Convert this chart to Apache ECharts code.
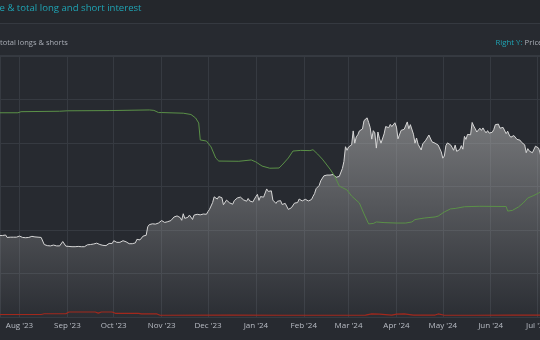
<!DOCTYPE html>
<html><head><meta charset="utf-8">
<script src="https://cdn.jsdelivr.net/npm/echarts@6/dist/echarts.min.js"></script>
<style>html,body{margin:0;padding:0;background:#272a30;}#c{width:540px;height:340px;}</style>
</head><body><div id="c"></div>
<script>
// Price (k USD), daily closes starting 2023-07-19
const priceStart = '2023-07-19';
const price_2023_07 = [29.9,29.8,29.9,29.8,30.1,29.2,29.2,29.3,29.2,29.3,29.3,29.3,29.2];
const price_2023_08 = [29.7,29.2,29.2,29.1,29.1,29.1,29.2,29.8,29.6,29.4,29.4,29.4,29.3,29.4,29.2,28.7,26.6,26.1,26.2,26.1,26.1,26.1,26.4,26.2,26.1,26.0,26.1,26.1,27.7,27.3,26.0];
const price_2023_09 = [25.9,25.9,26.0,25.8,25.8,25.8,26.2,25.9,25.9,25.8,25.1,25.8,26.2,26.5,26.6,26.6,26.5,26.8,27.2,27.1,26.6,26.6,26.6,26.3,26.3,26.2,26.4,27.0,27.0,27.0];
const price_2023_10 = [28.0,27.5,27.4,27.8,27.4,28.0,28.0,28.0,27.6,27.4,26.9,26.8,26.9,26.9,27.2,28.5,28.4,28.3,28.7,29.7,30.0,30.0,33.1,33.9,34.5,34.2,33.9,34.1,34.5,34.5,34.7];
const price_2023_11 = [35.4,34.9,34.7,35.1,35.0,35.0,35.4,35.6,36.7,37.3,37.1,37.1,36.5,35.5,37.9,36.2,36.6,36.6,37.4,37.5,35.8,37.4,37.3,37.7,37.8,37.5,37.2,37.8,37.9,37.7];
const price_2023_12 = [38.7,39.5,39.9,42.0,44.1,43.8,43.3,44.2,44.0,43.8,41.2,41.5,42.9,43.0,41.9,42.3,41.4,42.7,42.3,43.7,43.8,44.0,43.7,43.0,43.6,42.5,43.5,42.6,42.1,42.2,42.3];
const price_2024_01 = [44.2,45.0,42.8,44.2,44.2,44.0,43.9,47.0,46.1,46.6,46.3,42.9,42.9,41.7,42.5,43.1,42.7,41.3,41.6,41.7,41.6,39.5,39.8,40.1,40.0,41.8,42.1,42.0,43.3,42.9,42.6];
const price_2024_02 = [43.1,43.2,43.0,42.6,42.7,43.1,44.3,45.3,47.1,47.8,48.3,50.0,49.7,51.8,52.0,52.1,51.7,52.1,51.8,52.3,51.9,51.3,50.7,51.6,51.7,54.5,57.1,62.5,61.2];
const price_2024_03 = [62.4,62.0,63.2,68.3,63.8,66.1,66.9,68.3,68.5,69.0,72.1,71.5,73.1,71.4,69.5,65.3,68.4,67.6,62.0,67.9,65.5,63.8,64.0,67.2,69.9,69.9,69.5,70.7,69.9,69.6,71.3];
const price_2024_04 = [69.7,65.4,65.9,68.5,67.8,68.9,69.4,71.6,69.1,70.6,70.0,67.1,63.8,65.7,63.4,63.8,61.3,63.5,63.8,64.9,64.9,66.8,66.4,64.3,64.5,63.8,63.4,63.1,63.8,60.6];
const price_2024_05 = [58.3,59.1,62.9,63.9,64.0,63.2,62.3,61.2,63.1,60.8,60.8,61.5,62.9,61.6,66.3,65.2,67.0,67.0,66.9,71.4,70.1,69.1,67.9,68.5,69.3,68.5,69.4,68.4,67.6,68.4,67.5];
const price_2024_06 = [67.7,67.8,68.8,70.6,71.1,70.8,69.3,69.3,69.6,69.5,67.3,68.2,66.8,66.0,66.2,66.6,66.5,65.2,65.0,64.9,64.1,64.3,63.2,60.3,61.8,60.9,61.6,60.3,60.9,62.7];
const price_2024_07 = [62.9,62.0,60.2,57.0,56.6];

// Total longs (k BTC)
const longsDates = ['2023-07-19','2023-07-31','2023-08-02','2023-08-27','2023-09-01','2023-09-28','2023-10-24','2023-10-27','2023-10-30','2023-11-01','2023-11-15','2023-11-20','2023-11-23','2023-11-25','2023-11-26','2023-11-30','2023-12-03','2023-12-06','2023-12-08','2023-12-21','2023-12-29','2024-01-01','2024-01-05','2024-01-10','2024-01-16','2024-01-18','2024-01-22','2024-01-25','2024-01-30','2024-02-05','2024-02-07','2024-02-10','2024-02-13','2024-02-15','2024-02-18','2024-02-21','2024-02-24','2024-02-29','2024-03-03','2024-03-08','2024-03-11','2024-03-14','2024-03-17','2024-03-19','2024-03-24','2024-04-01','2024-04-07','2024-04-11','2024-04-13','2024-04-19','2024-04-26','2024-04-28','2024-05-02','2024-05-06','2024-05-09','2024-05-15','2024-05-25','2024-06-11','2024-06-12','2024-06-15','2024-06-19','2024-06-22','2024-06-25','2024-06-29','2024-07-02','2024-07-04'];
const longsValues = [93.9,93.9,94.4,94.6,94.8,94.9,95.2,95.0,94.0,94.0,93.7,93.1,91.5,89.2,81.4,80.9,78.2,73.1,71.7,71.6,72.2,71.3,69.4,68.4,68.5,69.9,73.1,76.3,76.6,76.5,76.9,74.9,72.6,70.8,68.0,64.8,60.2,58.4,55.6,52.4,47.4,42.8,43.0,43.7,43.4,43.2,43.2,43.7,44.8,45.5,46.0,46.4,48.3,49.7,49.9,50.7,50.9,50.8,48.7,49.0,50.6,52.4,54.7,55.9,57.0,57.9];

// Total shorts (k BTC)
const shortsDates = ['2023-07-19','2023-08-15','2023-08-17','2023-08-31','2023-09-02','2023-09-19','2023-09-21','2023-09-23','2023-09-30','2023-10-02','2023-10-17','2023-10-19','2023-10-29','2023-10-31','2023-12-15','2024-01-20','2024-02-20','2024-03-12','2024-03-16','2024-03-21','2024-03-29','2024-04-01','2024-04-06','2024-04-12','2024-04-26','2024-04-28','2024-05-02','2024-05-20','2024-06-15','2024-07-04'];
const shortsValues = [1.15,1.15,1.5,1.5,2.3,2.3,1.8,2.3,2.3,1.7,1.7,1.4,1.4,0.8,0.9,0.8,0.8,0.9,1.4,1.3,0.9,1.3,1.4,0.9,0.9,1.4,0.8,0.8,0.9,0.9];

const monthNames = ['Jan','Feb','Mar','Apr','May','Jun','Jul','Aug','Sep','Oct','Nov','Dec'];

const priceValues = [].concat(price_2023_07,price_2023_08,price_2023_09,price_2023_10,price_2023_11,price_2023_12,price_2024_01,price_2024_02,price_2024_03,price_2024_04,price_2024_05,price_2024_06,price_2024_07);
const DAY = 86400000;
const t0 = Date.parse(priceStart + 'T00:00:00Z');
const priceData = priceValues.map((v,i)=>[t0 + i*DAY, v]);
const toTs = s => Date.parse(s + 'T00:00:00Z');
const longsData = longsDates.map((d,i)=>[toTs(d), longsValues[i]]);
const shortsData = shortsDates.map((d,i)=>[toTs(d), shortsValues[i]]);

const chart = echarts.init(document.getElementById('c'), null, {renderer:'canvas'});
const teal = '#1fa3b3';
const grid = '#363a41';
chart.setOption({
  backgroundColor: '#272a30',
  animation: false,
  useUTC: true,
  grid: {left: 0, right: 0, top: 56, bottom: 23, containLabel: false, outerBoundsMode: 'none'},
  graphic: [
    {type:'rect', shape:{x:0,y:0,width:540,height:23}, style:{fill:'#24272c'}, z:-1},
    {type:'line', shape:{x1:0,y1:23.5,x2:540,y2:23.5}, style:{stroke:'#353940', lineWidth:1}},
    {type:'line', shape:{x1:0,y1:55.5,x2:540,y2:55.5}, style:{stroke:'#353940', lineWidth:1}},
    {type:'text', x:-0.5, y:8.5, style:{text:'e & total long and short interest', fill:teal, font:'9.6px "Open Sans"', verticalAlign:'middle'}},
    {type:'text', x:0, y:42.5, style:{text:'total longs & shorts', fill:'#a9adb5', font:'7.5px "Open Sans"', verticalAlign:'middle'}},
    {type:'text', x:495.5, y:42.5, style:{text:'{a|Right Y:} {b|Price}', font:'7.8px "Open Sans"', verticalAlign:'middle', rich:{a:{fill:teal, font:'7.8px "Open Sans"'}, b:{fill:'#a9adb5', font:'7.8px "Open Sans"'}}}}
  ],
  xAxis: {
    type: 'time',
    min: Date.UTC(2023,6,19,9),
    max: Date.UTC(2024,6,2,22),
    splitNumber: 12,
    minInterval: 28*DAY,
    axisLine: {show:false},
    axisTick: {show:false},
    splitLine: {show:true, lineStyle:{color:grid, width:1}},
    axisLabel: {
      color:'#b8bcc4', fontSize:8, fontFamily:'Open Sans', margin:5, hideOverlap:false,
      formatter: function(v){ const d=new Date(v); return monthNames[d.getUTCMonth()] + " '" + String(d.getUTCFullYear()).slice(2); }
    }
  },
  yAxis: [
    {type:'value', min:0, max:120, interval:20, axisLabel:{show:false}, axisLine:{show:false}, axisTick:{show:false}, splitLine:{lineStyle:{color:grid, width:1}}},
    {type:'value', min:0, max:95.8, position:'right', axisLabel:{show:false}, axisLine:{show:false}, axisTick:{show:false}, splitLine:{show:false}}
  ],
  series: [
    {name:'Price', type:'line', yAxisIndex:1, data:priceData, symbol:'none', z:2,
     lineStyle:{color:'#d6d6d6', width:1},
     areaStyle:{color:new echarts.graphic.LinearGradient(0,0,0,1,[{offset:0,color:'rgba(180,180,180,0.8)'},{offset:1,color:'rgba(180,180,180,0.04)'}])}},
    {name:'Longs', type:'line', yAxisIndex:0, data:longsData, symbol:'none', z:3, lineStyle:{color:'#5b9148', width:1}},
    {name:'Shorts', type:'line', yAxisIndex:0, data:shortsData, symbol:'none', z:3, lineStyle:{color:'#a3281c', width:1.2}}
  ]
});
</script>
</body></html>
